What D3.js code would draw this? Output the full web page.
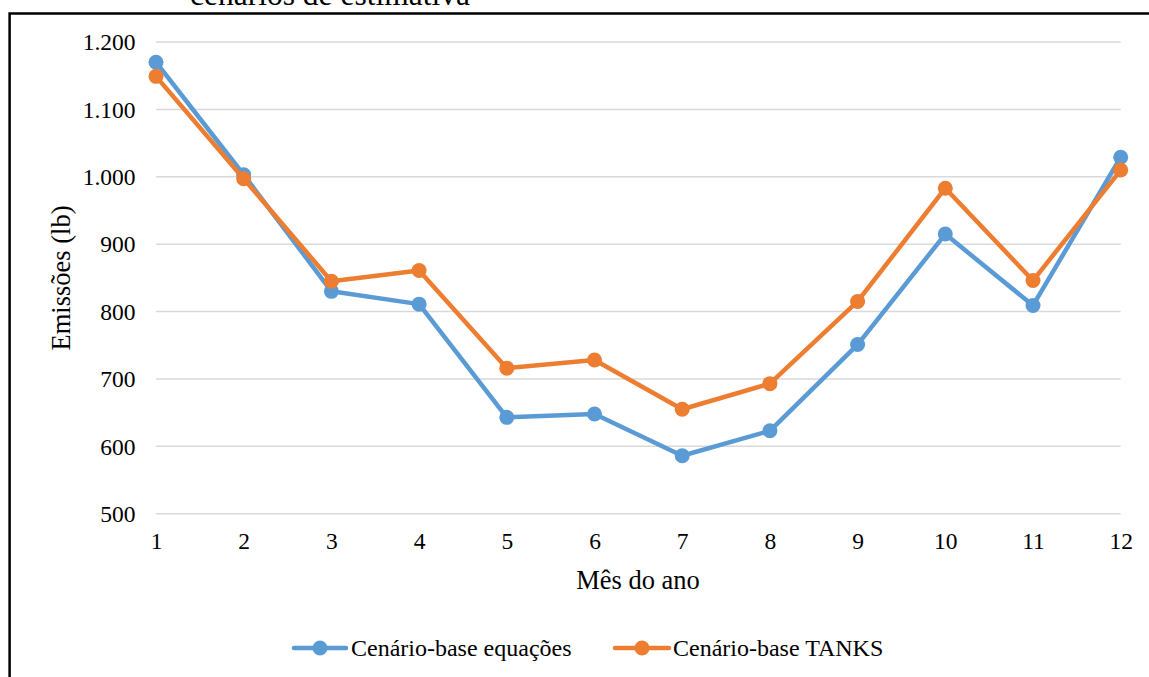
<!DOCTYPE html>
<html>
<head>
<meta charset="utf-8">
<script src="https://cdn.jsdelivr.net/npm/d3@7"></script>
<style>
  html, body { margin: 0; padding: 0; background: #fff; }
  svg { display: block; }
  text { font-family: "Liberation Serif", "Times New Roman", serif; fill: #000; }
</style>
</head>
<body>
<svg id="chart" width="1149" height="677"></svg>
<script>
// Monthly emissions (lb) for the two base-case estimation scenarios
const months = [1, 2, 3, 4, 5, 6, 7, 8, 9, 10, 11, 12];
const equacoes = [1170, 1003, 830, 811, 643, 648, 586, 623, 751, 915, 809, 1029];
const tanks = [1149, 997, 845, 861, 716, 728, 655, 693, 815, 983, 846, 1010];
const yTicks = [500, 600, 700, 800, 900, 1000, 1100, 1200];
const seriesNames = ["Cenário-base equações", "Cenário-base TANKS"];
const colors = ["#5B9BD5", "#ED7D31"];

const svg = d3.select("#chart");
const W = 1149, H = 677;

const x = d3.scaleLinear().domain([1, 12]).range([156, 1120.7]);
const y = d3.scaleLinear().domain([500, 1200]).range([513.7, 42]);

const fmt = v => d3.format(",")(v).replace(/,/g, ".");

// caption above the frame, running off the top edge
svg.append("text")
  .attr("x", 190).attr("y", 5)
  .attr("font-size", 31.5)
  .text("cenários de estimativa");

// frame (left and top edges visible)
svg.append("path")
  .attr("d", `M9.6,${H} L9.6,13.6 L${W},13.6`)
  .attr("fill", "none")
  .attr("stroke", "#000")
  .attr("stroke-width", 2.5);

// horizontal gridlines
svg.append("g")
  .selectAll("line")
  .data(yTicks)
  .join("line")
  .attr("x1", x(1)).attr("x2", x(12))
  .attr("y1", d => y(d)).attr("y2", d => y(d))
  .attr("stroke", "#D9D9D9")
  .attr("stroke-width", 1.5);

// y axis labels
const yAxis = d3.axisLeft(y).tickValues(yTicks).tickFormat(fmt).tickSize(0).tickPadding(0);
const gy = svg.append("g").attr("transform", "translate(135.5,0)").call(yAxis);
gy.select(".domain").remove();
gy.selectAll("text")
  .attr("font-size", 23.5)
  .attr("font-family", "Liberation Serif, serif")
  .attr("fill", "#000")
  .attr("dy", "0.33em");

// x axis labels
const xAxis = d3.axisBottom(x).tickValues(months).tickFormat(d3.format("d")).tickSize(0).tickPadding(0);
const gx = svg.append("g").attr("transform", "translate(0,541.5)").call(xAxis);
gx.select(".domain").remove();
gx.selectAll("text")
  .attr("font-size", 23.5)
  .attr("font-family", "Liberation Serif, serif")
  .attr("fill", "#000")
  .attr("dy", "0.33em");

// axis titles
svg.append("text")
  .attr("transform", "translate(61,278) rotate(-90)")
  .attr("text-anchor", "middle")
  .attr("dy", "0.33em")
  .attr("font-size", 26.5)
  .text("Emissões (lb)");

svg.append("text")
  .attr("x", 638).attr("y", 580)
  .attr("text-anchor", "middle")
  .attr("dy", "0.33em")
  .attr("font-size", 26.5)
  .text("Mês do ano");

// series lines and markers
const seriesData = [equacoes, tanks];
const line = d3.line().x((d, i) => x(months[i])).y(d => y(d));

seriesData.forEach((vals, s) => {
  const g = svg.append("g");
  g.append("path")
    .datum(vals)
    .attr("d", line)
    .attr("fill", "none")
    .attr("stroke", colors[s])
    .attr("stroke-width", 4.5)
    .attr("stroke-linejoin", "round")
    .attr("stroke-linecap", "round");
  g.selectAll("circle")
    .data(vals)
    .join("circle")
    .attr("cx", (d, i) => x(months[i]))
    .attr("cy", d => y(d))
    .attr("r", 7.5)
    .attr("fill", colors[s]);
});

// legend
const legendY = 648;
const legendItems = [
  { x0: 294, x1: 346, cx: 320, tx: 351 },
  { x0: 615, x1: 669, cx: 642, tx: 673 }
];
legendItems.forEach((it, i) => {
  const g = svg.append("g");
  g.append("line")
    .attr("x1", it.x0).attr("x2", it.x1)
    .attr("y1", legendY).attr("y2", legendY)
    .attr("stroke", colors[i])
    .attr("stroke-width", 4.5)
    .attr("stroke-linecap", "round");
  g.append("circle")
    .attr("cx", it.cx).attr("cy", legendY)
    .attr("r", 7.5)
    .attr("fill", colors[i]);
  g.append("text")
    .attr("x", it.tx).attr("y", legendY)
    .attr("dy", "0.33em")
    .attr("font-size", 24)
    .text(seriesNames[i]);
});
</script>
</body>
</html>
